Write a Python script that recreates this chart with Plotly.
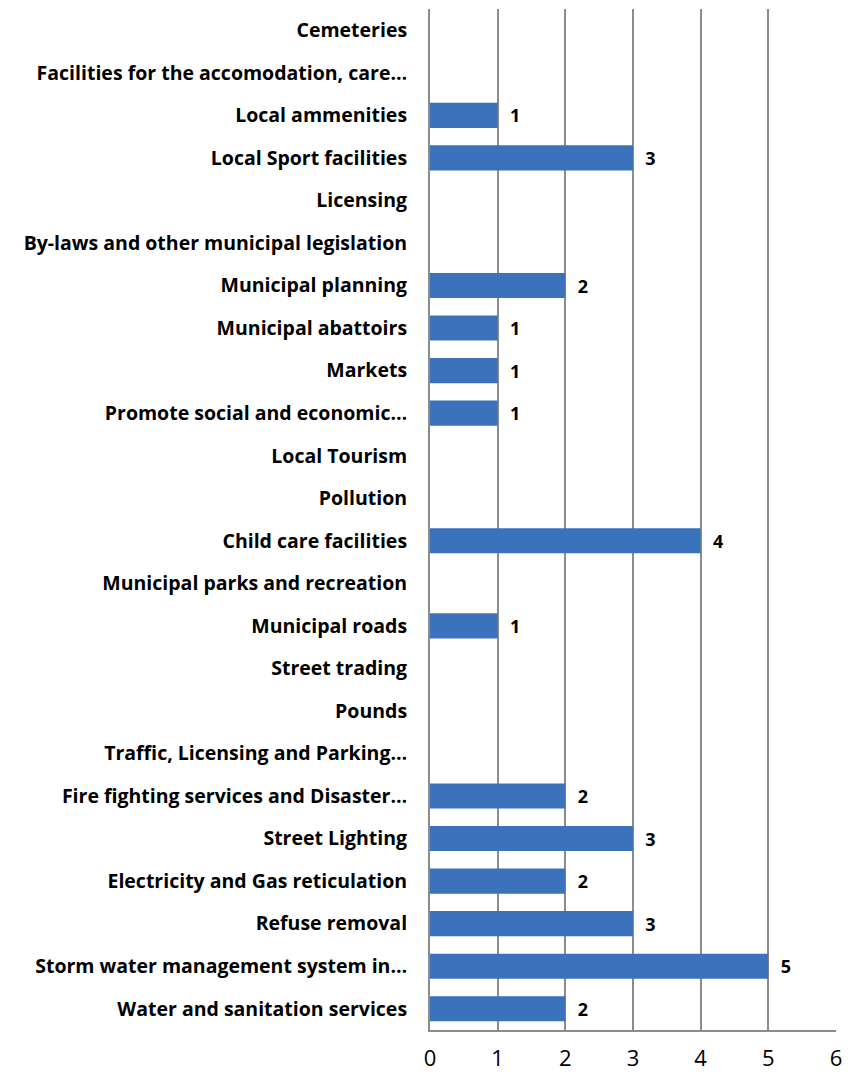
import plotly.graph_objects as go

#@ Categories listed bottom to top, as plotted
services = [
    'Water and sanitation services',
    'Storm water management system in…',
    'Refuse removal',
    'Electricity and Gas reticulation',
    'Street Lighting',
    'Fire fighting services and Disaster…',
    'Traffic, Licensing and Parking…',
    'Pounds',
    'Street trading',
    'Municipal roads',
    'Municipal parks and recreation',
    'Child care facilities',
    'Pollution',
    'Local Tourism',
    'Promote social and economic…',
    'Markets',
    'Municipal abattoirs',
    'Municipal planning',
    'By-laws and other municipal legislation',
    'Licensing',
    'Local Sport facilities',
    'Local ammenities',
    'Facilities for the accomodation, care…',
    'Cemeteries',
]
counts = [2, 5, 3, 2, 3, 2, 0, 0, 0, 1, 0, 4, 0, 0, 1, 1, 1, 2, 0, 0, 3, 1, 0, 0]
x_ticks = [0, 1, 2, 3, 4, 5, 6]

labels = ['\u00a0\u00a0' + str(v) if v else '' for v in counts]

fig = go.Figure(go.Bar(
    x=counts, y=services, orientation='h',
    marker=dict(color='#3A72BC', line=dict(width=0)),
    text=labels, textposition='outside', cliponaxis=False,
    textfont=dict(family='Open Sans', size=18, color='black', weight='bold'),
))

fig.update_layout(
    width=850, height=1076,
    margin=dict(l=422, r=22, t=1, b=54),
    plot_bgcolor='white', paper_bgcolor='white',
    bargap=0.41, showlegend=False,
    font=dict(family='Open Sans', color='black'),
)
fig.update_xaxes(
    range=[0, 6], tickvals=x_ticks, showgrid=True, gridcolor='#8C8C8C', gridwidth=2,
    showline=True, linecolor='#8C8C8C', linewidth=2, zeroline=False,
    tickfont=dict(size=22), ticks='', ticklabelstandoff=8, automargin=False,
)
fig.update_yaxes(
    showline=True, linecolor='#8C8C8C', linewidth=2, ticks='',
    tickfont=dict(size=19.5, weight='bold'), ticklabelstandoff=17, automargin=False,
)

fig.write_html('out.html')
